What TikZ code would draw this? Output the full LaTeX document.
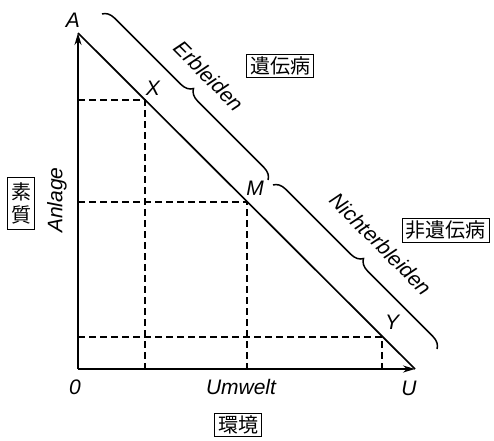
\documentclass[tikz,border=0pt]{standalone}
\usepackage{fontspec}
\newfontfamily\lab{Liberation Sans}
\newfontfamily\cjk{Noto Sans CJK JP}
\usetikzlibrary{arrows.meta,decorations.pathreplacing}
\begin{document}
\begin{tikzpicture}[x=1pt,y=-1pt,
  axis/.style={line width=1.7pt,-{Stealth[length=12pt,width=7pt]}},
  diag/.style={line width=1.7pt},
  dashline/.style={line width=1.2pt,dash pattern=on 7pt off 4pt},
  lbl/.style={font=\lab\itshape\fontsize{21}{24}\selectfont,inner sep=0pt},
  jbox/.style={draw,line width=0.8pt,font=\cjk\fontsize{20}{23}\selectfont,inner xsep=3.5pt,inner ysep=2.5pt},
  bracestyle/.style={line width=1.5pt,decorate,decoration={brace,amplitude=12pt}}]
\useasboundingbox (0,0) rectangle (494,440);
% key points
\coordinate (O) at (78,369);
\coordinate (A) at (78,33);
\coordinate (U) at (415,369);
\coordinate (X) at (145,100);
\coordinate (M) at (247,202);
\coordinate (Y) at (382,337);
\coordinate (Xh) at (78,100);
\coordinate (Xv) at (145,369);
\coordinate (Mh) at (78,202);
\coordinate (Mv) at (247,369);
\coordinate (Yh) at (78,337);
\coordinate (Yv) at (382,369);
% dashed
\draw[dashline] (Xh) -- (X) -- (Xv);
\draw[dashline] (Mh) -- (M) -- (Mv);
\draw[dashline] (Yh) -- (Y) -- (Yv);
% axes
\draw[axis] (O) -- (A);
\draw[axis] (O) -- (U);
\draw[diag] (A) -- (U);
% braces
\coordinate (B1s) at (102,14);
\coordinate (B1e) at (268,180);
\coordinate (B2s) at (273,185);
\coordinate (B2e) at (437,349);
\draw[bracestyle] (B1s) -- (B1e);
\draw[bracestyle] (B2s) -- (B2e);
% labels
\node[lbl] (lA) at (73,20) {A};
\node[lbl] (lO) at (75,387) {0};
\node[lbl] (lU) at (409,388) {U};
\node[lbl] (lUm) at (241,387) {Umwelt};
\node[lbl] (lX) at (153,88) {X};
\node[lbl] (lM) at (255,188) {M};
\node[lbl] (lY) at (392,322) {Y};
\node[lbl,rotate=90] (lAn) at (57,200) {Anlage};
\node[lbl,rotate=-45] (lE) at (209,76) {Erbleiden};
\node[lbl,rotate=-45] (lN) at (381,244) {Nichterbleiden};
% boxes
\node[jbox] (b1) at (280,66) {遺伝病};
\node[jbox] (b2) at (445.5,230.5) {非遺伝病};
\node[jbox] (b3) at (238,425) {環境};
\node[jbox,align=center,inner ysep=5pt] (b4) at (21,203.5) {素\\質};
\end{tikzpicture}
\end{document}
